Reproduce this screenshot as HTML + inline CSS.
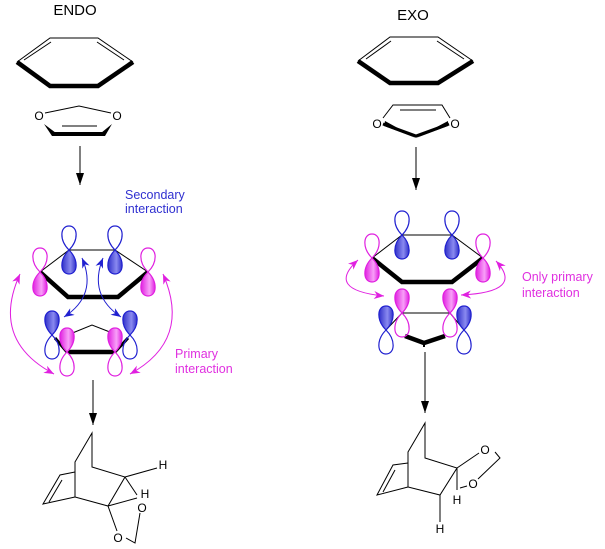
<!DOCTYPE html>
<html><head><meta charset="utf-8"><style>
html,body{margin:0;padding:0;background:#fff;}
svg{display:block;}
text{font-family:"Liberation Sans",Arial,sans-serif;}
</style></head><body>
<svg width="605" height="549" viewBox="0 0 605 549" xmlns="http://www.w3.org/2000/svg">
<defs>
<linearGradient id="gb" x1="0" x2="1" y1="0" y2="0"><stop offset="0" stop-color="#3030c8"/><stop offset="0.6" stop-color="#8a8af0"/><stop offset="1" stop-color="#3030c8"/></linearGradient>
<linearGradient id="gp" x1="0" x2="1" y1="0" y2="0"><stop offset="0" stop-color="#e020e0"/><stop offset="0.6" stop-color="#f8a0f8"/><stop offset="1" stop-color="#e020e0"/></linearGradient>
<path id="lu" d="M0,0 C-10,-10 -9,-24 0,-24 C9,-24 10,-10 0,0Z"/>
<path id="ld" d="M0,0 C-10,10 -9,24 0,24 C9,24 10,10 0,0Z"/>
<marker id="ak" markerWidth="12" markerHeight="8" refX="12" refY="4" orient="auto" markerUnits="userSpaceOnUse"><path d="M0,0 L12,4 L0,8Z" fill="#000"/></marker>
<marker id="ab" markerWidth="10" markerHeight="8" refX="10" refY="4" orient="auto-start-reverse" markerUnits="userSpaceOnUse"><path d="M0,0 L10,4 L0,8 L3,4Z" fill="#2020d0"/></marker>
<marker id="ap" markerWidth="10" markerHeight="8" refX="10" refY="4" orient="auto-start-reverse" markerUnits="userSpaceOnUse"><path d="M0,0 L10,4 L0,8 L3,4Z" fill="#e020e0"/></marker>
</defs>

<text x="75" y="15" font-size="15" text-anchor="middle">ENDO</text>
<text x="413" y="20" font-size="15" text-anchor="middle">EXO</text>

<!-- ENDO hexagon -->
<g stroke="#000" fill="none">
<path d="M17,62 L50,38 L98,38 L133,62" stroke-width="1"/>
<path d="M24,60 L51,42 M97,42 L124,60" stroke-width="1"/>
<path d="M17,62 L50,86 L98,86 L133,62" stroke-width="4.5"/>
</g>
<!-- ENDO dioxole -->
<text x="39" y="120" font-size="12" text-anchor="middle">O</text>
<text x="117" y="120" font-size="12" text-anchor="middle">O</text>
<path d="M45,113 L79,106 L111,113" stroke="#000" fill="none"/>
<path d="M62,126 L97,126" stroke="#000"/>
<path d="M44,124 L52,136 L56,133Z M112,124 L105,136 L101,133Z" fill="#000"/>
<path d="M52,134 L105,134" stroke="#000" stroke-width="4"/>
<line x1="80" y1="146" x2="80" y2="185" stroke="#000" marker-end="url(#ak)"/>

<!-- EXO hexagon -->
<g stroke="#000" fill="none">
<path d="M358,61 L390,37 L438,37 L473,61" stroke-width="1"/>
<path d="M366,59 L391,41 M437,41 L464,59" stroke-width="1"/>
<path d="M358,61 L390,83 L438,83 L473,61" stroke-width="4.5"/>
</g>
<text x="377" y="128" font-size="12" text-anchor="middle">O</text>
<text x="455" y="128" font-size="12" text-anchor="middle">O</text>
<path d="M383,118 L393,105 L442,105 L450,118" stroke="#000" fill="none"/>
<path d="M400,110 L436,110" stroke="#000"/>
<path d="M384,126 L416,138 L385,121Z M448,126 L416,138 L448,121Z" fill="#000"/>
<path d="M383,124 L416,136 L449,124" stroke="#000" stroke-width="3" fill="none"/>
<line x1="416" y1="147" x2="416" y2="190" stroke="#000" marker-end="url(#ak)"/>

<!-- Labels -->
<text x="125" y="199" font-size="12.5" fill="#3030d0">Secondary</text>
<text x="125" y="213" font-size="12.5" fill="#3030d0">interaction</text>
<text x="175" y="358" font-size="12.5" fill="#e030e0">Primary</text>
<text x="175" y="373" font-size="12.5" fill="#e030e0">interaction</text>
<text x="522" y="281" font-size="12.5" fill="#e030e0">Only primary</text>
<text x="522" y="297" font-size="12.5" fill="#e030e0">interaction</text>

<!-- ENDO orbital diagram -->
<g stroke="#000" fill="none">
<path d="M40,272 L69,250 L115,250 L148,272" stroke-width="1"/>
<path d="M40,272 L68,297 L118,297 L148,272" stroke-width="4.5"/>
<path d="M70,334 L92,325 L115,334" stroke-width="1"/>
<path d="M67,352 L115,352" stroke-width="4.5"/>
<path d="M55,338 L67,352 M128,338 L115,352" stroke-width="3"/>
</g>
<g stroke-width="1.2">
<use href="#lu" x="69" y="250" fill="#fff" stroke="#2020d0"/><use href="#ld" x="69" y="250" fill="url(#gb)" stroke="#2020d0"/>
<use href="#lu" x="115" y="250" fill="#fff" stroke="#2020d0"/><use href="#ld" x="115" y="250" fill="url(#gb)" stroke="#2020d0"/>
<use href="#lu" x="40" y="272" fill="#fff" stroke="#e020e0"/><use href="#ld" x="40" y="272" fill="url(#gp)" stroke="#e020e0"/>
<use href="#lu" x="148" y="272" fill="#fff" stroke="#e020e0"/><use href="#ld" x="148" y="272" fill="url(#gp)" stroke="#e020e0"/>
<use href="#lu" x="52" y="335" fill="url(#gb)" stroke="#2020d0"/><use href="#ld" x="52" y="335" fill-opacity="0" stroke="#2020d0"/>
<use href="#lu" x="130" y="335" fill="url(#gb)" stroke="#2020d0"/><use href="#ld" x="130" y="335" fill-opacity="0" stroke="#2020d0"/>
<use href="#lu" x="67" y="352" fill="url(#gp)" stroke="#e020e0"/><use href="#ld" x="67" y="352" fill="#fff" stroke="#e020e0"/>
<use href="#lu" x="115" y="352" fill="url(#gp)" stroke="#e020e0"/><use href="#ld" x="115" y="352" fill="#fff" stroke="#e020e0"/>
</g>
<g fill="none" stroke-width="1">
<path d="M82,258 Q98,295 64,317" stroke="#2020d0" marker-start="url(#ab)" marker-end="url(#ab)"/>
<path d="M103,258 Q88,295 121,317" stroke="#2020d0" marker-start="url(#ab)" marker-end="url(#ab)"/>
<path d="M20,274 Q-10,340 54,374" stroke="#e020e0" marker-start="url(#ap)" marker-end="url(#ap)"/>
<path d="M163,274 Q192,340 130,374" stroke="#e020e0" marker-start="url(#ap)" marker-end="url(#ap)"/>
</g>
<line x1="93" y1="380" x2="93" y2="425" stroke="#000" marker-end="url(#ak)"/>

<!-- EXO orbital diagram -->
<g stroke="#000" fill="none">
<path d="M372,258 L402,235 L452,235 L483,258" stroke-width="1"/>
<path d="M372,258 L402,282 L452,282 L483,258" stroke-width="4.5"/>
<path d="M402,313 L450,313" stroke-width="1"/>
<path d="M386,330 L402,313 M464,330 L450,313" stroke-width="1"/>
<path d="M405,336 L424,343 L445,336" stroke-width="4.5"/>
<path d="M424,343 L424,347" stroke-width="2"/>
</g>
<g stroke-width="1.2">
<use href="#lu" x="402" y="235" fill="#fff" stroke="#2020d0"/><use href="#ld" x="402" y="235" fill="url(#gb)" stroke="#2020d0"/>
<use href="#lu" x="452" y="235" fill="#fff" stroke="#2020d0"/><use href="#ld" x="452" y="235" fill="url(#gb)" stroke="#2020d0"/>
<use href="#lu" x="372" y="258" fill="#fff" stroke="#e020e0"/><use href="#ld" x="372" y="258" fill="url(#gp)" stroke="#e020e0"/>
<use href="#lu" x="483" y="258" fill="#fff" stroke="#e020e0"/><use href="#ld" x="483" y="258" fill="url(#gp)" stroke="#e020e0"/>
<use href="#lu" x="386" y="330" fill="url(#gb)" stroke="#2020d0"/><use href="#ld" x="386" y="330" fill-opacity="0" stroke="#2020d0"/>
<use href="#lu" x="464" y="330" fill="url(#gb)" stroke="#2020d0"/><use href="#ld" x="464" y="330" fill-opacity="0" stroke="#2020d0"/>
<use href="#lu" x="402" y="313" fill="url(#gp)" stroke="#e020e0"/><use href="#ld" x="402" y="313" fill-opacity="0" stroke="#e020e0"/>
<use href="#lu" x="450" y="313" fill="url(#gp)" stroke="#e020e0"/><use href="#ld" x="450" y="313" fill-opacity="0" stroke="#e020e0"/>
</g>
<g fill="none" stroke-width="1">
<path d="M358,260 Q325,290 384,296" stroke="#e020e0" marker-start="url(#ap)" marker-end="url(#ap)"/>
<path d="M496,261 Q525,292 461,295" stroke="#e020e0" marker-start="url(#ap)" marker-end="url(#ap)"/>
</g>
<line x1="425" y1="352" x2="425" y2="413" stroke="#000" marker-end="url(#ak)"/>

<!-- ENDO product -->
<g stroke="#000" fill="none" stroke-width="1">
<path d="M92,433 L75,462 L75,497 L108,506 L125,477 L92,467 Z"/>
<path d="M75,472 L60,475 L43,504 L75,497"/>
<path d="M62,480 L49,502"/>
<path d="M125,477 L157,468"/>
<path d="M125,477 L137,495"/>
<path d="M108,506 L137,498"/>
<path d="M108,506 L117,531"/>
<path d="M140,513 L135,543 L126,538"/>
</g>
<text x="163" y="469" font-size="12" text-anchor="middle">H</text>
<text x="145" y="498" font-size="12" text-anchor="middle">H</text>
<text x="142" y="512" font-size="12" text-anchor="middle">O</text>
<text x="118" y="542" font-size="12" text-anchor="middle">O</text>

<!-- EXO product -->
<g stroke="#000" fill="none" stroke-width="1">
<path d="M425,423 L408,452 L408,487 L440,495 L457,468 L425,458 Z"/>
<path d="M408,463 L393,465 L377,495 L408,487"/>
<path d="M395,470 L383,492"/>
<path d="M457,468 L479,453"/>
<path d="M495,452 L500,458 L478,479"/>
<path d="M457,468 L457,490"/>
<path d="M460,488 L467,486"/>
<path d="M440,495 L440,522"/>
</g>
<text x="485" y="454" font-size="12" text-anchor="middle">O</text>
<text x="473" y="488" font-size="12" text-anchor="middle">O</text>
<text x="457" y="504" font-size="12" text-anchor="middle">H</text>
<text x="440" y="533" font-size="12" text-anchor="middle">H</text>
</svg>
</body></html>
